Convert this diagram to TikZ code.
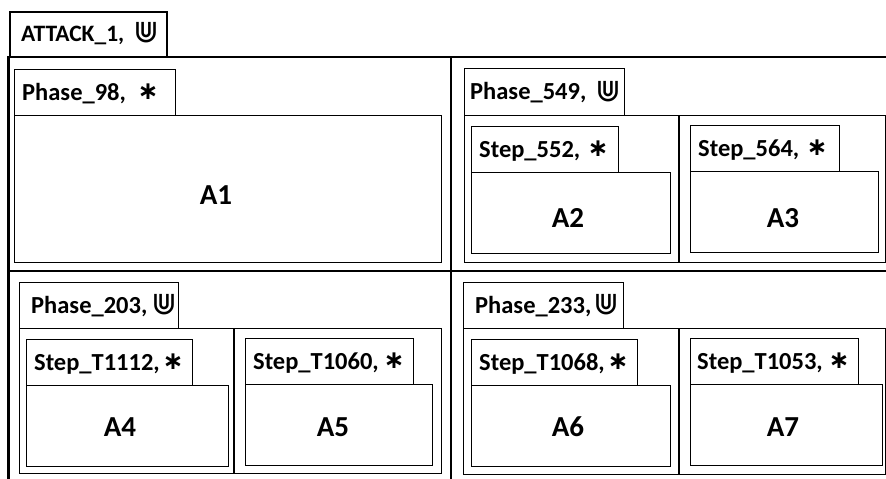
\documentclass[tikz,border=0pt]{standalone}
\usepackage{fontspec}
\setmainfont{Carlito}
\newfontfamily\symf{DejaVu Sans}
\begin{document}
\begin{tikzpicture}[x=1pt,y=-1pt,
  frame/.style={line width=2.4pt},
  box/.style={draw, line width=1.4pt, anchor=north west, inner sep=0pt},
  bigbox/.style={box, line width=2.4pt},
  ttxt/.style={anchor=base west, inner sep=0pt, font=\bfseries\fontsize{24.5}{28}\selectfont},
  uni/.style={inner sep=0pt, font=\symf\fontsize{31}{32}\selectfont},
  star/.style={inner sep=0pt, font=\symf\bfseries\fontsize{25}{30}\selectfont},
  lbl/.style={font=\bfseries\fontsize{29}{32}\selectfont, inner sep=0pt}
]
\useasboundingbox (0,0) rectangle (886,479);
% outer frame
\coordinate (ftl) at (8.5,57);
\coordinate (ftr) at (886,57);
\coordinate (fbl) at (8.5,479);
\coordinate (fmt) at (451,57);
\coordinate (fmb) at (451,479);
\coordinate (fml) at (8.5,271);
\coordinate (fmr) at (886,271);
\draw[frame] (fbl) -- (ftl) -- (ftr);
\draw[frame] (fmt) -- (fmb);
\draw[frame] (fml) -- (fmr);
\node[bigbox, minimum width=157, minimum height=45] (attack) at (8.5,11) {};
\node[ttxt, font=\bfseries\fontsize{23.5}{26}\selectfont] (attackt) at (21,41) {ATTACK\_1,};
\node[uni] (attacku) at (146,33) {⋓};

% top-left cell
\node[box, minimum width=161, minimum height=46] (p98) at (14,69) {};
\node[ttxt] (p98t) at (22,100) {Phase\_98,};
\node[star] (p98s) at (148,92) {∗};
\node[box, minimum width=427, minimum height=147] (p98b) at (14,115) {};
\node[lbl] (a1) at (216,195) {A1};

% top-right cell
\node[box, minimum width=160, minimum height=47] (p549) at (464,68) {};
\node[ttxt] (p549t) at (470,99) {Phase\_549,};
\node[uni] (p549u) at (608,92) {⋓};
\node[box, minimum width=421, minimum height=147] (p549b) at (464,115) {};
\draw[line width=1.4pt] (p549b.north west -| 679,0) coordinate (d1t) -- (p549b.south west -| 679,0) coordinate (d1b);
\node[box, minimum width=147, minimum height=46] (s552) at (471,126) {};
\node[ttxt] (s552t) at (479,157) {Step\_552,};
\node[star] (s552s) at (598,149) {∗};
\node[box, minimum width=199, minimum height=81] (s552b) at (471,172) {};
\node[lbl] (a2) at (568,218) {A2};
\node[box, minimum width=149, minimum height=46] (s564) at (690,125) {};
\node[ttxt] (s564t) at (698,156) {Step\_564,};
\node[star] (s564s) at (817,148) {∗};
\node[box, minimum width=188, minimum height=81] (s564b) at (690,171) {};
\node[lbl] (a3) at (783,218) {A3};

% bottom-left cell
\node[box, minimum width=159, minimum height=46] (p203) at (19,282) {};
\node[ttxt] (p203t) at (31,313) {Phase\_203,};
\node[uni] (p203u) at (164,305) {⋓};
\node[box, minimum width=422, minimum height=145] (p203b) at (19,328) {};
\draw[line width=1.4pt] (p203b.north west -| 234,0) coordinate (d2t) -- (p203b.south west -| 234,0) coordinate (d2b);
\node[box, minimum width=166, minimum height=46] (t1112) at (26,339) {};
\node[ttxt] (t1112t) at (34,370) {Step\_T1112,};
\node[star] (t1112s) at (173,362) {∗};
\node[box, minimum width=202, minimum height=81] (t1112b) at (26,385) {};
\node[lbl] (a4) at (120,427) {A4};
\node[box, minimum width=168, minimum height=46] (t1060) at (245,338) {};
\node[ttxt] (t1060t) at (253,369) {Step\_T1060,};
\node[star] (t1060s) at (394,361) {∗};
\node[box, minimum width=187, minimum height=81] (t1060b) at (245,384) {};
\node[lbl] (a5) at (333,427) {A5};

% bottom-right cell
\node[box, minimum width=160, minimum height=46] (p233) at (463,282) {};
\node[ttxt] (p233t) at (475,313) {Phase\_233,};
\node[uni] (p233u) at (606,305) {⋓};
\node[box, minimum width=422, minimum height=146] (p233b) at (463,328) {};
\draw[line width=1.4pt] (p233b.north west -| 679,0) coordinate (d3t) -- (p233b.south west -| 679,0) coordinate (d3b);
\node[box, minimum width=166, minimum height=46] (t1068) at (471,339) {};
\node[ttxt] (t1068t) at (479,370) {Step\_T1068,};
\node[star] (t1068s) at (618,362) {∗};
\node[box, minimum width=199, minimum height=81] (t1068b) at (471,385) {};
\node[lbl] (a6) at (568,427) {A6};
\node[box, minimum width=168, minimum height=46] (t1053) at (690,338) {};
\node[ttxt] (t1053t) at (697,369) {Step\_T1053,};
\node[star] (t1053s) at (839,361) {∗};
\node[box, minimum width=192, minimum height=81] (t1053b) at (690,384) {};
\node[lbl] (a7) at (783,427) {A7};
\end{tikzpicture}
\end{document}
